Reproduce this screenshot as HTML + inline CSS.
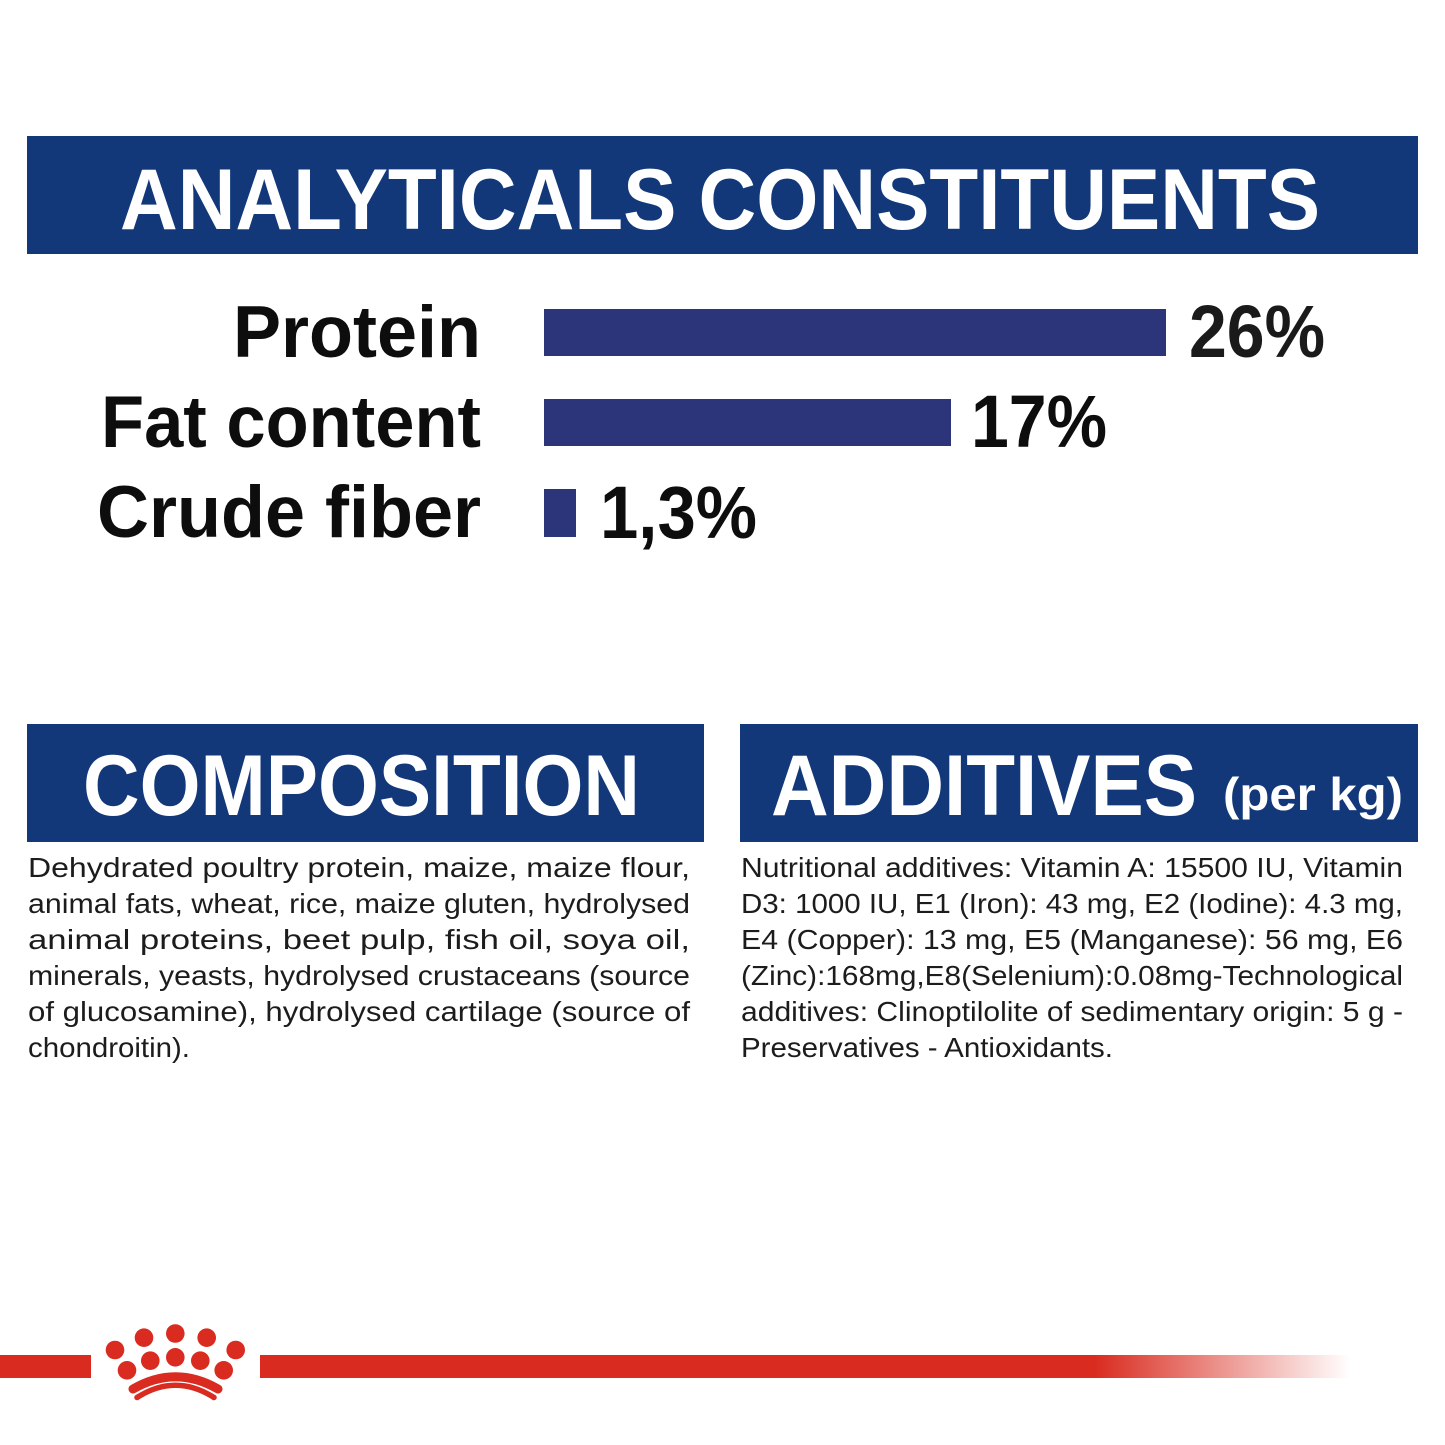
<!DOCTYPE html>
<html>
<head>
<meta charset="utf-8">
<style>
html,body{margin:0;padding:0;background:#fff;}
svg{display:block;}
.t{font-family:"Liberation Sans",sans-serif;}
</style>
</head>
<body>
<svg width="1445" height="1445" viewBox="0 0 1445 1445" xmlns="http://www.w3.org/2000/svg">
<defs>
<linearGradient id="fade" x1="260" y1="0" x2="1350" y2="0" gradientUnits="userSpaceOnUse">
<stop offset="0" stop-color="#d92b1f"/>
<stop offset="0.765" stop-color="#d92b1f"/>
<stop offset="1" stop-color="#d92b1f" stop-opacity="0"/>
</linearGradient>
</defs>
<rect width="1445" height="1445" fill="#fff"/>

<!-- Header banner -->
<rect x="27" y="136" width="1391" height="118" fill="#12387a"/>
<text class="t" x="120" y="229" font-size="86" font-weight="bold" fill="#fff" textLength="1200" lengthAdjust="spacingAndGlyphs">ANALYTICALS CONSTITUENTS</text>

<!-- Labels -->
<text class="t" x="233" y="357" font-size="73" font-weight="bold" fill="#0d0d0d" textLength="248" lengthAdjust="spacingAndGlyphs">Protein</text>
<text class="t" x="101" y="447" font-size="73" font-weight="bold" fill="#0d0d0d" textLength="380" lengthAdjust="spacingAndGlyphs">Fat content</text>
<text class="t" x="97" y="537" font-size="73" font-weight="bold" fill="#0d0d0d" textLength="384" lengthAdjust="spacingAndGlyphs">Crude fiber</text>

<!-- Bars -->
<rect x="544" y="309" width="622" height="47" fill="#2c3579"/>
<rect x="544" y="399" width="407" height="47" fill="#2c3579"/>
<rect x="544" y="489" width="32" height="48" fill="#2c3579"/>

<!-- Values -->
<text class="t" x="1189" y="357" font-size="74" font-weight="bold" fill="#1a1a1a" textLength="136" lengthAdjust="spacingAndGlyphs">26%</text>
<text class="t" x="971" y="447" font-size="74" font-weight="bold" fill="#0d0d0d" textLength="136" lengthAdjust="spacingAndGlyphs">17%</text>
<text class="t" x="600" y="538" font-size="74" font-weight="bold" fill="#0d0d0d" textLength="157" lengthAdjust="spacingAndGlyphs">1,3%</text>

<!-- Composition banner -->
<rect x="27" y="724" width="677" height="118" fill="#12387a"/>
<text class="t" x="83" y="815" font-size="86" font-weight="bold" fill="#fff" textLength="557" lengthAdjust="spacingAndGlyphs">COMPOSITION</text>

<!-- Additives banner -->
<rect x="740" y="724" width="678" height="118" fill="#12387a"/>
<text class="t" x="771" y="815" font-size="86" font-weight="bold" fill="#fff" textLength="426" lengthAdjust="spacingAndGlyphs">ADDITIVES</text>
<text class="t" x="1223" y="810" font-size="46" font-weight="bold" fill="#fff" textLength="180" lengthAdjust="spacingAndGlyphs">(per kg)</text>

<!-- Composition text -->
<g class="t" font-size="28" fill="#1c1c1c">
<text x="28" y="877" textLength="662" lengthAdjust="spacingAndGlyphs">Dehydrated poultry protein, maize, maize flour,</text>
<text x="28" y="913" textLength="662" lengthAdjust="spacingAndGlyphs">animal fats, wheat, rice, maize gluten, hydrolysed</text>
<text x="28" y="949" textLength="662" lengthAdjust="spacingAndGlyphs">animal proteins, beet pulp, fish oil, soya oil,</text>
<text x="28" y="985" textLength="662" lengthAdjust="spacingAndGlyphs">minerals, yeasts, hydrolysed crustaceans (source</text>
<text x="28" y="1021" textLength="662" lengthAdjust="spacingAndGlyphs">of glucosamine), hydrolysed cartilage (source of</text>
<text x="28" y="1057" textLength="162" lengthAdjust="spacingAndGlyphs">chondroitin).</text>
</g>

<!-- Additives text -->
<g class="t" font-size="28" fill="#1c1c1c">
<text x="741" y="877" textLength="662" lengthAdjust="spacingAndGlyphs">Nutritional additives: Vitamin A: 15500 IU, Vitamin</text>
<text x="741" y="913" textLength="662" lengthAdjust="spacingAndGlyphs">D3: 1000 IU, E1 (Iron): 43 mg, E2 (Iodine): 4.3 mg,</text>
<text x="741" y="949" textLength="662" lengthAdjust="spacingAndGlyphs">E4 (Copper): 13 mg, E5 (Manganese): 56 mg, E6</text>
<text x="741" y="985" textLength="662" lengthAdjust="spacingAndGlyphs">(Zinc):168mg,E8(Selenium):0.08mg-Technological</text>
<text x="741" y="1021" textLength="662" lengthAdjust="spacingAndGlyphs">additives: Clinoptilolite of sedimentary origin: 5 g -</text>
<text x="741" y="1057" textLength="372" lengthAdjust="spacingAndGlyphs">Preservatives - Antioxidants.</text>
</g>

<!-- Red line -->
<rect x="0" y="1355" width="91" height="23" fill="#d92b1f"/>
<rect x="260" y="1355" width="1090" height="23" fill="url(#fade)"/>

<!-- Crown -->
<g fill="#d92b1f">
<circle cx="175.3" cy="1333.5" r="9.3"/>
<circle cx="144" cy="1337.7" r="9.3"/>
<circle cx="206.7" cy="1337.7" r="9.3"/>
<circle cx="115" cy="1350" r="9.3"/>
<circle cx="235.7" cy="1350" r="9.3"/>
<circle cx="175.3" cy="1357.3" r="9.3"/>
<circle cx="150.3" cy="1360.7" r="9.3"/>
<circle cx="200.3" cy="1360.7" r="9.3"/>
<circle cx="127" cy="1370.3" r="9.3"/>
<circle cx="223.7" cy="1370.3" r="9.3"/>
</g>
<path d="M133 1389 Q175.5 1364.6 218 1389" fill="none" stroke="#d92b1f" stroke-width="9" stroke-linecap="round"/>
<path d="M137 1397.5 Q175.5 1373 214 1397.5" fill="none" stroke="#d92b1f" stroke-width="5.5" stroke-linecap="round"/>
</svg>
</body>
</html>
